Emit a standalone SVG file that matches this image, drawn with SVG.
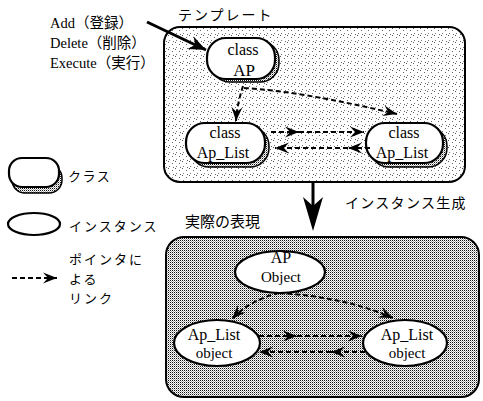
<svg xmlns="http://www.w3.org/2000/svg" width="483" height="401" viewBox="0 0 483 401">
<defs>
<pattern id="stipple" width="7" height="7" patternUnits="userSpaceOnUse">
<rect x="0" y="0" width="1" height="1" fill="#555"/>
<rect x="4" y="2" width="1" height="1" fill="#666"/>
<rect x="1" y="5" width="1" height="1" fill="#777"/>
<rect x="5" y="6" width="1" height="1" fill="#666"/>
</pattern>
<pattern id="dense" width="2" height="2" patternUnits="userSpaceOnUse">
<rect width="2" height="2" fill="#fff"/>
<rect x="0" y="0" width="1" height="1" fill="#111"/>
<rect x="1" y="1" width="1" height="1" fill="#aaa"/>
</pattern>
<marker id="dart" markerUnits="userSpaceOnUse" orient="auto" overflow="visible" refX="0" refY="0" markerWidth="1" markerHeight="1">
<path d="M0,0 L-14,-5.5 L-9,0 L-14,5.5 Z" fill="#000"/>
</marker>
<marker id="bigdart" markerUnits="userSpaceOnUse" orient="auto" overflow="visible" refX="0" refY="0" markerWidth="1" markerHeight="1">
<path d="M0,0 L-17,-7 L-12,0 L-17,7 Z" fill="#000"/>
</marker>
</defs>
<style>
.jp{font-family:"Noto Sans CJK JP","Noto Sans",sans-serif;font-size:14px;fill:#000}
.mix{font-family:"Liberation Serif","Noto Sans CJK JP",serif;font-size:14.5px;fill:#000}
.nt{font-family:"Liberation Serif",serif;font-size:16px;fill:#000;text-anchor:middle}
.main{fill:#fff;stroke:#000;stroke-width:2.2}
.shadow{fill:url(#dense);stroke:#000;stroke-width:1.5}
.inst{fill:#fff;stroke:#000;stroke-width:2.2}
.link{fill:none;stroke:#000;stroke-width:2;stroke-dasharray:5 3;marker-end:url(#dart)}
</style>
<rect width="483" height="401" fill="#fff"/>

<g id="template-box">
<rect x="164" y="27" width="301" height="155" rx="16" fill="url(#stipple)" stroke="#000" stroke-width="2"/>
<text class="jp" x="178" y="20" letter-spacing="2">テンプレート</text>
</g>
<g id="actual-box">
<rect x="166" y="237" width="313" height="160" rx="18" fill="url(#dense)" stroke="#000" stroke-width="2"/>
<text class="jp" x="185" y="227" style="font-size:15px">実際の表現</text>
</g>

<g id="ops">
<text class="mix" x="50" y="28">Add（登録）</text>
<text class="mix" x="50" y="48">Delete（削除）</text>
<text class="mix" x="50" y="68">Execute（実行）</text>
</g>

<g id="class-AP">
<rect class="shadow" x="211" y="41" width="68" height="41" rx="19"/>
<rect class="main" x="207" y="38" width="68" height="41" rx="19"/>
<text class="nt" x="243" y="55">class</text>
<text class="nt" x="244" y="76" style="font-size:17px">AP</text>
</g>
<g id="class-ApList-left">
<rect class="shadow" x="190" y="127" width="79" height="40" rx="19"/>
<rect class="main" x="186" y="123" width="79" height="40" rx="19"/>
<text class="nt" x="225" y="138">class</text>
<text class="nt" x="223" y="158">Ap_List</text>
</g>
<g id="class-ApList-right">
<rect class="shadow" x="370" y="127" width="77" height="40" rx="19"/>
<rect class="main" x="366" y="123" width="77" height="40" rx="19"/>
<text class="nt" x="404" y="138">class</text>
<text class="nt" x="402" y="158">Ap_List</text>
</g>

<g id="obj-AP">
<ellipse class="inst" cx="280" cy="272" rx="45" ry="21"/>
<text class="nt" x="281" y="263">AP</text>
<text class="nt" x="281" y="282" style="font-size:15px">Object</text>
</g>
<g id="obj-ApList-left">
<ellipse class="inst" cx="217" cy="343" rx="43" ry="23"/>
<text class="nt" x="214" y="340">Ap_List</text>
<text class="nt" x="214" y="358" style="font-size:15px">object</text>
</g>
<g id="obj-ApList-right">
<ellipse class="inst" cx="405" cy="343" rx="42" ry="23"/>
<text class="nt" x="407" y="340">Ap_List</text>
<text class="nt" x="407" y="358" style="font-size:15px">object</text>
</g>

<g id="legend">
<g id="legend-class">
<rect class="shadow" x="12" y="165" width="50" height="28" rx="13"/>
<rect class="main" x="9" y="158" width="50" height="29" rx="13"/>
<text class="jp" x="68" y="181" style="font-size:13px" letter-spacing="1.5">クラス</text>
</g>
<g id="legend-instance">
<ellipse class="inst" cx="34" cy="224" rx="26" ry="11"/>
<text class="jp" x="69" y="231" style="font-size:13px" letter-spacing="2">インスタンス</text>
</g>
<g id="legend-link">
<path class="link" d="M12,278 L57,278"/>
<text class="jp" x="69" y="264" style="font-size:13px" letter-spacing="2">ポインタに</text>
<text class="jp" x="69" y="284" style="font-size:13px" letter-spacing="2">よる</text>
<text class="jp" x="69" y="303" style="font-size:13px" letter-spacing="2">リンク</text>
</g>
</g>

<g id="connectors">
<path d="M147,22 L206,50" fill="none" stroke="#000" stroke-width="3" marker-end="url(#bigdart)"/>
<path class="link" d="M243,86 C240,96 237,106 236,121"/>
<path class="link" d="M244,88 Q300,91 397,114"/>
<path class="link" d="M271,132 L299,132"/>
<path class="link" d="M299,132 L364,132"/>
<path class="link" d="M370,148 L348,148"/>
<path class="link" d="M348,148 L275,148"/>
<path class="link" d="M279,293 Q250,300 232,319"/>
<path class="link" d="M279,293 Q345,297 393,318"/>
<path class="link" d="M259,336 L297,336"/>
<path class="link" d="M297,336 L362,336"/>
<path class="link" d="M365,352 L331,352"/>
<path class="link" d="M331,352 L259,352"/>
<g id="instantiate">
<path d="M313,183 L313,206" stroke="#000" stroke-width="3" fill="none"/>
<polygon points="303,197 313,206 323,197 313,231" fill="#000"/>
<text class="jp" x="345" y="208" letter-spacing="1.3">インスタンス生成</text>
</g>
</g>
</svg>
